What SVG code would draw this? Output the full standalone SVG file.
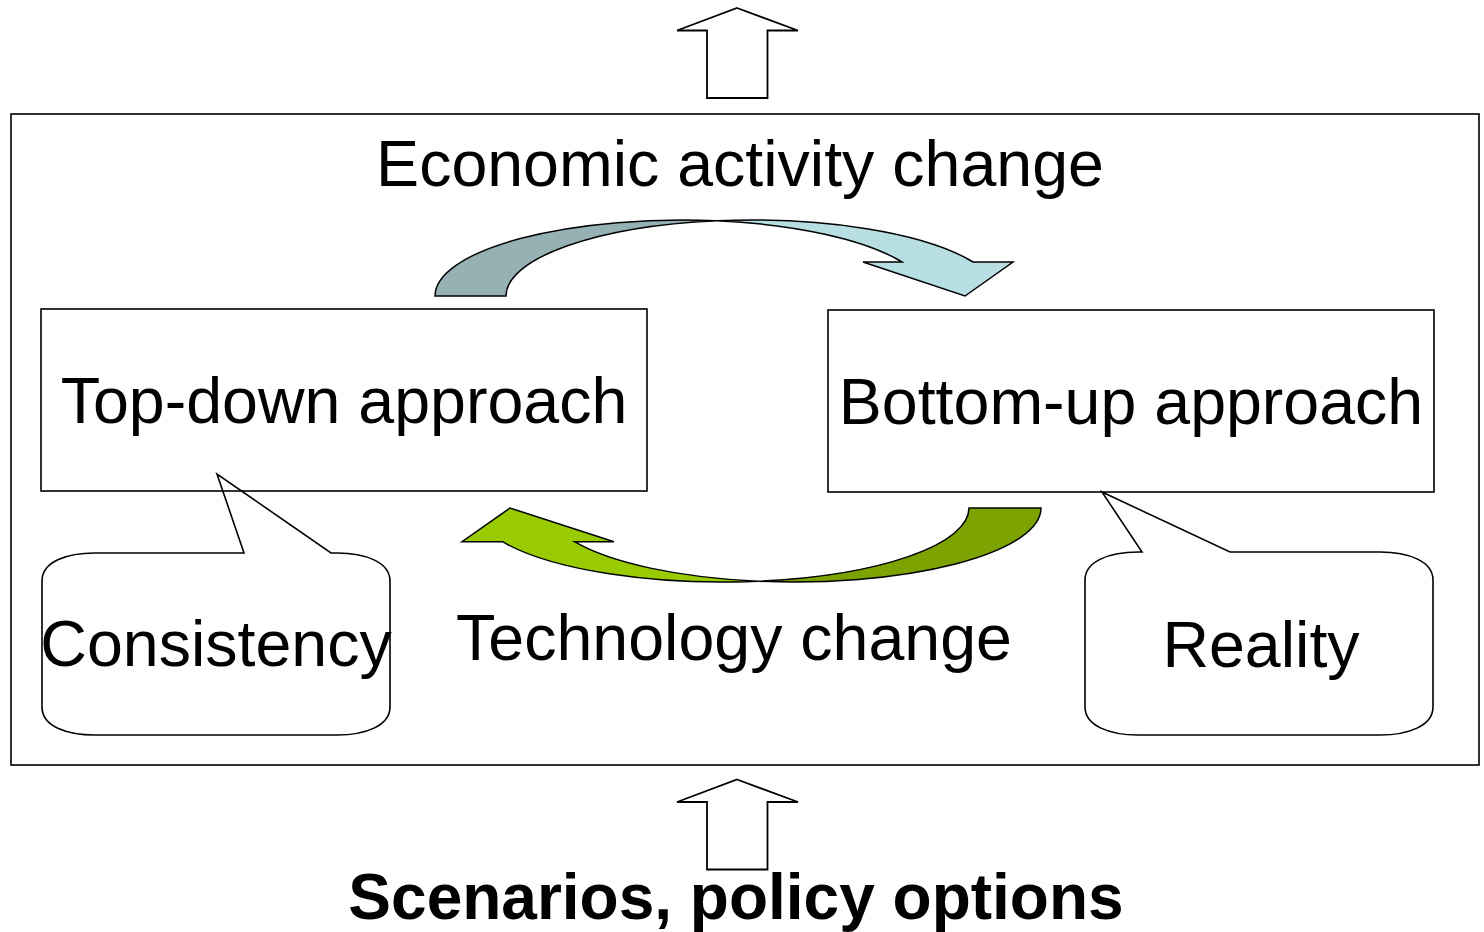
<svg xmlns="http://www.w3.org/2000/svg" width="1484" height="932" viewBox="0 0 1484 932">
<style>
.box{fill:#fff;stroke:#000;stroke-width:1.6}
.frame{fill:none;stroke:#000;stroke-width:1.6}
.callout{fill:none;stroke:#000;stroke-width:1.6;stroke-linejoin:miter}
.blk{fill:#fff;stroke:#000;stroke-width:1.8;stroke-linejoin:miter}
.arc{stroke:#000;stroke-width:1.5;stroke-linejoin:miter}
.t{font-family:"Liberation Sans",Arial,sans-serif;font-size:64.5px;fill:#000;text-anchor:middle}
.b{font-weight:bold;font-size:64px}
</style>
<g id="frame"><rect class="frame" x="11" y="114" width="1468" height="651"/></g>
<g id="connectors">
<path class="blk" d="M737,8 L798,30.5 L767.5,30.5 L767.5,98 L707,98 L707,30.5 L677,30.5 Z"/>
<path class="blk" d="M737,779.5 L798,802 L767.5,802 L767.5,869.5 L707,869.5 L707,802 L677,802 Z"/>
<path class="arc" fill="#95B1B4" d="M435,296 A246.6,76 0 0 1 717.1,220.8 A246.6,76 0 0 0 506,296 Z"/>
<path class="arc" fill="#B7DEE2" d="M717.1,220.8 A246.6,76 0 0 1 973,262 L1013,262 L965,296 L863,262 L902,262 A246.6,76 0 0 0 717.1,220.8 Z"/>
<path class="arc" fill="#7DA300" d="M1041,508 A246.8,74 0 0 1 758.2,581.2 A246.8,74 0 0 0 969,508 Z"/>
<path class="arc" fill="#99CC00" d="M758.2,581.2 A246.8,74 0 0 1 502.5,541.7 L462,541.7 L510,508 L614,541.7 L574.5,541.7 A246.8,74 0 0 0 758.2,581.2 Z"/>
</g>
<text class="t" x="740" y="186">Economic activity change</text>
<g id="topdown">
<rect class="box" x="41" y="309" width="606" height="182"/>
<text class="t" x="344" y="423">Top-down approach</text>
</g>
<g id="bottomup">
<rect class="box" x="828" y="310" width="606" height="182"/>
<text class="t" x="1131" y="424">Bottom-up approach</text>
</g>
<g id="consistency">
<path class="callout" d="M42,581 C42,561 68,553 95,553 L244,553 L217,474 L331,553 L337,553 C365,553 390,562 390,581 L390,707 C390,726 365,735 337,735 L95,735 C68,735 42,727 42,707 Z"/>
<text class="t" x="216" y="666">Consistency</text>
</g>
<text class="t" x="734" y="660">Technology change</text>
<g id="reality">
<path class="callout" d="M1085,580 C1085,561 1110,552 1138,552 L1142,552 L1102,492 L1230,552 L1380,552 C1408,552 1433,561 1433,580 L1433,707 C1433,726 1408,735 1380,735 L1138,735 C1110,735 1085,726 1085,707 Z"/>
<text class="t" x="1261" y="667">Reality</text>
</g>
<text class="t b" x="736" y="919">Scenarios, policy options</text>
</svg>
